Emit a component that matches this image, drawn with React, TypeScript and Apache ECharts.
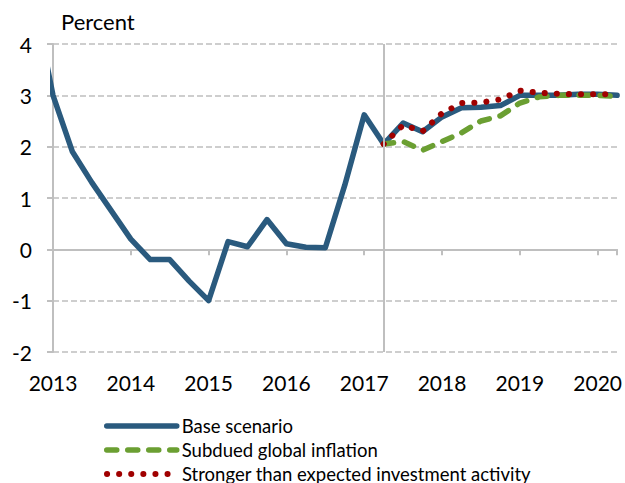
import React, { useEffect, useRef } from "react";
import * as echarts from "echarts";

// Quarterly data; base series starts one quarter before the visible range (clipped at the axis)
const baseStart = 2012.75;
const baseValues = [
  4.9, 3.0, 1.9, 1.3, 0.75, 0.2, -0.2, -0.2, -0.62, -1.0, 0.15, 0.05, 0.58,
  0.11, 0.04, 0.03, 1.25, 2.62, 2.05, 2.46, 2.29, 2.58, 2.76, 2.77, 2.8, 3.0,
  3.0, 3.0, 3.02, 3.02, 3.0,
];
const scenarioStart = 2017.25;
const subduedValues = [2.05, 2.1, 1.93, 2.1, 2.27, 2.5, 2.6, 2.85, 2.97, 3.0, 3.0, 3.0, 2.98];
const strongerValues = [2.05, 2.42, 2.3, 2.65, 2.85, 2.86, 2.92, 3.09, 3.05, 3.03, 3.02, 3.02, 3.02];
const forecastLine = 2017.25;
const yTicks = [-2, -1, 0, 1, 2, 3, 4];
const seriesNames = ["Base scenario", "Subdued global inflation", "Stronger than expected investment activity"];

const toPairs = (start: number, vals: number[]) => vals.map((v, i) => [start + i * 0.25, v]);

const FONT = "Lato";
const GRID_GRAY = "#BFBFBF";
const legendRowTops = [416, 440, 464];

export default function App() {
  const ref = useRef<HTMLDivElement>(null);
  useEffect(() => {
    if (!ref.current) return;
    const chart = echarts.init(ref.current, null, { renderer: "svg" });
    const xCommon = {
      type: "value",
      min: 2013,
      max: 2020.25,
      interval: 1,
      splitLine: { show: false },
    };
    chart.setOption({
      animation: false,
      grid: { left: 53, right: 7, top: 44, bottom: 131 },
      graphic: [
        {
          type: "text",
          left: 61,
          top: 10,
          style: { text: "Percent", font: `22px ${FONT}`, fill: "#000" },
        },
      ],
      legend: seriesNames.map((name, i) => ({
        orient: "horizontal",
        left: 104,
        top: legendRowTops[i],
        padding: 0,
        itemWidth: 70,
        itemHeight: 14,
        data: [name],
        selectedMode: false,
        itemStyle: { opacity: 0 },
        lineStyle: { width: "inherit", type: "inherit", cap: "round" },
        textStyle: { fontFamily: FONT, fontSize: 18.5, color: "#000", lineHeight: 20 },
      })),
      xAxis: [
        {
          ...xCommon,
          position: "bottom",
          axisLine: { show: false, onZero: false },
          axisTick: { show: false },
          axisLabel: {
            showMaxLabel: false,
            margin: 20,
            fontFamily: FONT,
            fontSize: 21,
            color: "#000",
            formatter: (v: number) => String(v),
          },
        },
        {
          ...xCommon,
          position: "bottom",
          axisLine: { show: true, onZero: true, lineStyle: { color: GRID_GRAY, width: 2 } },
          axisTick: { show: true, length: 6, lineStyle: { color: GRID_GRAY, width: 2 } },
          axisLabel: { show: false },
        },
      ],
      yAxis: {
        type: "value",
        min: yTicks[0],
        max: yTicks[yTicks.length - 1],
        interval: 1,
        axisLine: { show: true, lineStyle: { color: GRID_GRAY, width: 2 } },
        axisTick: { show: true, length: 6, lineStyle: { color: GRID_GRAY, width: 2 } },
        axisLabel: { margin: 21, fontFamily: FONT, fontSize: 21, color: "#000" },
        splitLine: { show: true, lineStyle: { color: GRID_GRAY, width: 1.5, type: [6, 3] } },
      },
      series: [
        {
          name: "vline",
          type: "line",
          data: [],
          z: 1,
          markLine: {
            silent: true,
            symbol: ["none", "none"],
            label: { show: false },
            lineStyle: { color: GRID_GRAY, width: 2, type: "solid" },
            data: [{ xAxis: forecastLine }],
          },
        },
        {
          name: seriesNames[0],
          type: "line",
          z: 2,
          data: toPairs(baseStart, baseValues),
          symbol: "none",
          color: "#2A5A7E",
          lineStyle: { width: 5.5, color: "#2A5A7E", cap: "round", join: "round" },
        },
        {
          name: seriesNames[1],
          type: "line",
          z: 3,
          data: toPairs(scenarioStart, subduedValues),
          symbol: "none",
          color: "#6B9F32",
          lineStyle: { width: 5.5, color: "#6B9F32", type: [10, 11], cap: "round", join: "round" },
        },
        {
          name: seriesNames[2],
          type: "line",
          z: 4,
          data: toPairs(scenarioStart, strongerValues),
          symbol: "none",
          color: "#A00000",
          lineStyle: { width: 6, color: "#A00000", type: [0.1, 12], cap: "round", join: "round" },
        },
      ],
    });
    return () => chart.dispose();
  }, []);
  return <div ref={ref} style={{ width: 625, height: 483, position: "absolute", left: 0, top: 0 }} />;
}
